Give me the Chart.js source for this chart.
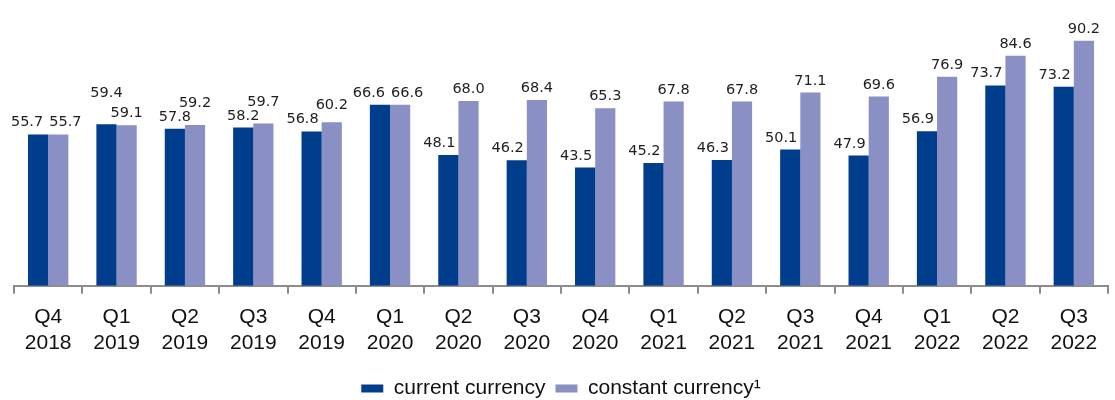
<!DOCTYPE html>
<html>
<head>
<meta charset="utf-8">
<script src="https://cdn.jsdelivr.net/npm/chart.js@4/dist/chart.umd.min.js"></script>
<style>
  html, body { margin: 0; padding: 0; background: #fff; }
  #wrap { width: 1115px; height: 400px; }
</style>
</head>
<body>
<div id="wrap"><canvas id="chart"></canvas></div>
<script>
const quarters = ['Q4', 'Q1', 'Q2', 'Q3', 'Q4', 'Q1', 'Q2', 'Q3', 'Q4', 'Q1', 'Q2', 'Q3', 'Q4', 'Q1', 'Q2', 'Q3'];
const years = ['2018', '2019', '2019', '2019', '2019', '2020', '2020', '2020', '2020', '2021', '2021', '2021', '2021', '2022', '2022', '2022'];
const currentCurrency = [55.7, 59.4, 57.8, 58.2, 56.8, 66.6, 48.1, 46.2, 43.5, 45.2, 46.3, 50.1, 47.9, 56.9, 73.7, 73.2];
const constantCurrency = [55.7, 59.1, 59.2, 59.7, 60.2, 66.6, 68.0, 68.4, 65.3, 67.8, 67.8, 71.1, 69.6, 76.9, 84.6, 90.2];

const darkBlue = '#003d8c';
const lavender = '#8a8fc4';

const labels = quarters.map((q, i) => [q, years[i]]);

// draws the value labels above bars, nudged apart like the original office chart
const valueLabels = {
  id: 'valueLabels',
  afterDatasetsDraw(chart) {
    const ctx = chart.ctx;
    const m0 = chart.getDatasetMeta(0), m1 = chart.getDatasetMeta(1);
    ctx.save();
    ctx.font = '14.5px "DejaVu Sans"';
    ctx.fillStyle = '#1e1e1e';
    ctx.textAlign = 'center';
    ctx.textBaseline = 'alphabetic';
    const h = 11, gap = 8;
    for (let i = 0; i < currentCurrency.length; i++) {
      const a = m0.data[i], b = m1.data[i];
      const ta = currentCurrency[i].toFixed(1), tb = constantCurrency[i].toFixed(1);
      const wa = ctx.measureText(ta).width, wb = ctx.measureText(tb).width;
      const boundary = (a.x + a.width / 2 + b.x - b.width / 2) / 2;
      let xa = a.x, ya = a.y - gap;
      let xb = b.x, yb = b.y - gap;
      if (currentCurrency[i] === constantCurrency[i]) {
        xa = boundary - wa / 2 - 5;
        xb = boundary + wb / 2 + 1;
      } else {
        // keep label off the neighbour bar
        if (b.y < ya) xa = Math.min(xa, boundary - wa / 2 - 3);
        if (a.y < yb) xb = Math.max(xb, boundary + wb / 2 + 1);
        const overlapX = (xa + wa / 2) > (xb - wb / 2);
        const overlapY = Math.abs(ya - yb) < h + 2;
        if (overlapX && overlapY) {
          if (currentCurrency[i] > constantCurrency[i]) ya = yb - h - 9;
          else yb = ya - h - 3;
        }
      }
      ctx.fillText(ta, xa, ya);
      ctx.fillText(tb, xb, yb);
    }
    ctx.restore();
  }
};

new Chart(document.getElementById('chart'), {
  type: 'bar',
  data: {
    labels: labels,
    datasets: [
      {
        label: 'current currency',
        data: currentCurrency,
        backgroundColor: darkBlue,
        barPercentage: 1,
        categoryPercentage: 0.59
      },
      {
        label: 'constant currency\u00b9',
        data: constantCurrency,
        backgroundColor: lavender,
        barPercentage: 1,
        categoryPercentage: 0.59
      }
    ]
  },
  options: {
    responsive: true,
    maintainAspectRatio: false,
    animation: false,
    layout: { padding: { top: 14, left: 14, right: 7, bottom: -9 } },
    plugins: {
      tooltip: { enabled: false },
      legend: {
        position: 'bottom',
        labels: {
          boxWidth: 22,
          boxHeight: 8,
          padding: 10,
          color: '#111',
          font: { family: '"Liberation Sans", Arial', size: 21 }
        }
      }
    },
    scales: {
      x: {
        afterFit(scale) { scale.height += 1; },
        grid: {
          display: true,
          drawOnChartArea: false,
          drawTicks: true,
          tickLength: 8,
          color: '#8c8c8c',
          lineWidth: 2
        },
        border: { display: true, color: '#8c8c8c', width: 2 },
        ticks: {
          color: '#111',
          padding: 11,
          maxRotation: 0,
          autoSkip: false,
          font: { family: '"Liberation Sans", Arial', size: 21, lineHeight: 1.22 }
        }
      },
      y: {
        display: false,
        min: 0,
        max: 100
      }
    }
  },
  plugins: [valueLabels]
});
</script>
</body>
</html>
